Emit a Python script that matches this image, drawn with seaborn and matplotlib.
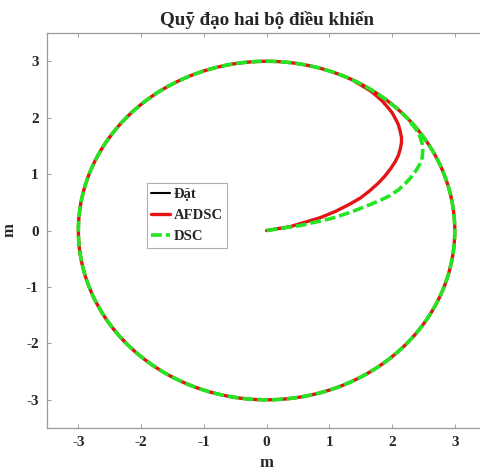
import numpy as np
import pandas as pd
import matplotlib
matplotlib.use("Agg")
import matplotlib.pyplot as plt
import seaborn as sns

# Reference circle radius (m)
radius = 3.0

# Transient of the AFDSC controller from the origin to the circle (m)
afdsc_x = [0.0, 0.38, 0.86, 1.10, 1.33, 1.50, 1.65, 1.78, 1.89, 1.98, 2.05,
           2.10, 2.13, 2.15, 2.15, 2.13, 2.10, 2.05, 2.00, 1.92, 1.84, 1.75,
           1.65, 1.53, 1.41]
afdsc_y = [0.0, 0.07, 0.23, 0.34, 0.47, 0.58, 0.71, 0.84, 0.97, 1.10, 1.22,
           1.33, 1.44, 1.55, 1.65, 1.76, 1.88, 1.99, 2.09, 2.20, 2.30, 2.39,
           2.48, 2.56, 2.64]

# Transient of the DSC controller from the origin to the circle (m)
dsc_x = [0.0, 0.54, 1.02, 1.33, 1.65, 1.82, 1.97, 2.10, 2.21, 2.30, 2.38,
         2.44, 2.48, 2.49, 2.48, 2.45, 2.41, 2.35, 2.29]
dsc_y = [0.0, 0.09, 0.21, 0.32, 0.46, 0.54, 0.62, 0.72, 0.83, 0.94, 1.06,
         1.17, 1.29, 1.41, 1.54, 1.65, 1.75, 1.84, 1.92]

labels = ["Đặt", "AFDSC", "DSC"]
ticks = [-3, -2, -1, 0, 1, 2, 3]


def circle_lap(start_angle, n=400):
    t = np.linspace(start_angle, start_angle + 2 * np.pi, n)
    return radius * np.cos(t), radius * np.sin(t)


ref_x, ref_y = circle_lap(0.0)
a_cx, a_cy = circle_lap(np.arctan2(afdsc_y[-1], afdsc_x[-1]))
d_cx, d_cy = circle_lap(np.arctan2(dsc_y[-1], dsc_x[-1]))

ref = pd.DataFrame({"x": ref_x, "y": ref_y})
afdsc = pd.DataFrame({"x": np.r_[afdsc_x, a_cx], "y": np.r_[afdsc_y, a_cy]})
dsc = pd.DataFrame({"x": np.r_[dsc_x, d_cx], "y": np.r_[dsc_y, d_cy]})

sns.set_style("ticks")
plt.rcParams["font.family"] = ["Liberation Serif", "DejaVu Serif"]
plt.rcParams["font.weight"] = "bold"

fig = plt.figure(figsize=(4.81, 4.73), dpi=100)
ax = fig.add_axes([0.0977, 0.0951, 0.913, 0.835])

sns.lineplot(data=ref, x="x", y="y", sort=False, estimator=None, ax=ax,
             color="black", linewidth=1.5, label=labels[0])
sns.lineplot(data=afdsc, x="x", y="y", sort=False, estimator=None, ax=ax,
             color="#e41414", linewidth=2.4, label=labels[1],
             solid_joinstyle="round")
sns.lineplot(data=dsc, x="x", y="y", sort=False, estimator=None, ax=ax,
             color="#22e622", linewidth=2.6, linestyle=(0, (3.0, 1.1)),
             label=labels[2], dash_joinstyle="round")

ax.set_xlim(-3.5, 3.5)
ax.set_ylim(-3.5, 3.5)
ax.set_xticks(ticks)
ax.set_yticks(ticks)
ax.set_xticklabels([str(t) for t in ticks])
ax.set_yticklabels([str(t) for t in ticks])
ax.tick_params(direction="in", length=3, width=0.6, color="#8c8c8c",
               labelsize=11, pad=6, top=True, right=True)
for lab in ax.get_xticklabels() + ax.get_yticklabels():
    lab.set_fontweight("bold")
for s in ax.spines.values():
    s.set_color("#9a9a9a")
    s.set_linewidth(0.9)

ax.set_xlabel("m", fontsize=12, fontweight="bold", labelpad=4)
ax.set_ylabel("m", fontsize=12, fontweight="bold", labelpad=6)
ax.set_title("Quỹ đạo hai bộ điều khiển", fontsize=13.7, fontweight="bold", pad=6)

leg = ax.legend(loc="upper left", bbox_to_anchor=(0.228, 0.62),
                prop={"weight": "bold", "size": 10.5}, handlelength=1.3,
                handletextpad=0.2, borderpad=0.3, labelspacing=0.55,
                frameon=True, fancybox=False, borderaxespad=0)
leg.get_frame().set_edgecolor("#9a9a9a")
leg.get_frame().set_linewidth(0.8)

fig.savefig("out.png", dpi=100)
